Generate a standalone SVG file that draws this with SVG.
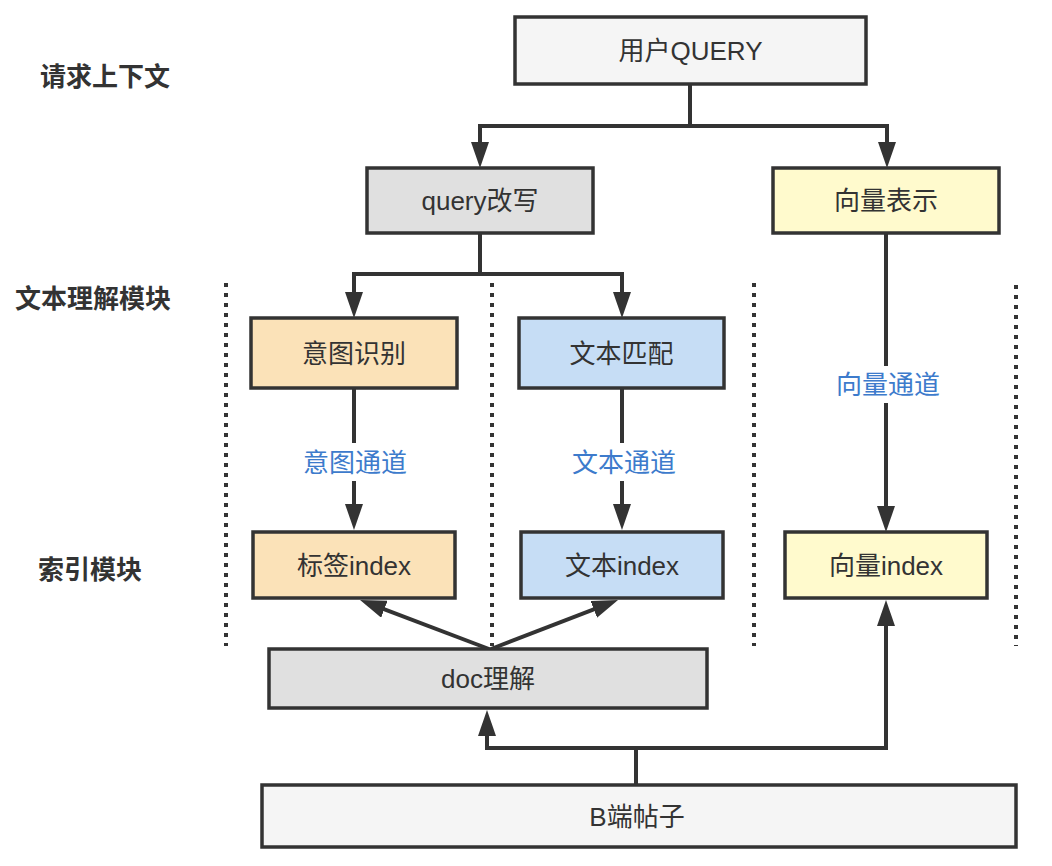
<svg xmlns="http://www.w3.org/2000/svg" width="1052" height="866" viewBox="0 0 1052 866">
<defs>
<style>
.box{stroke:#333;stroke-width:3.5;}
.t{font-family:"Liberation Sans","Noto Sans CJK SC",sans-serif;font-size:26px;fill:#333;text-anchor:middle;dominant-baseline:central;}
.lbl{font-family:"Liberation Sans","Noto Sans CJK SC",sans-serif;font-size:26px;fill:#3d7bcc;text-anchor:middle;dominant-baseline:central;}
.side{font-family:"Noto Sans CJK SC",sans-serif;font-size:26px;font-weight:bold;fill:#333;text-anchor:middle;dominant-baseline:central;}
.c{fill:none;stroke:#333;stroke-width:4;}
.a{marker-end:url(#ah);}
.dot{stroke:#333;stroke-width:4;stroke-dasharray:4 6;fill:none;}
</style>
<marker id="ah" viewBox="0 0 26 18" refX="16" refY="9" markerWidth="26" markerHeight="18" markerUnits="userSpaceOnUse" orient="auto">
<path d="M0,0 L26,9 L0,18 z" fill="#333"/>
</marker>
</defs>
<rect width="1052" height="866" fill="#ffffff"/>

<g id="side-labels">
<text class="side" x="105" y="74">请求上下文</text>
<text class="side" x="93" y="296">文本理解模块</text>
<text class="side" x="90" y="567">索引模块</text>
</g>

<g id="dividers">
<line class="dot" x1="226" y1="283" x2="226" y2="646"/>
<line class="dot" x1="492" y1="283" x2="492" y2="646"/>
<line class="dot" x1="754" y1="283" x2="754" y2="646"/>
<line class="dot" x1="1016" y1="285" x2="1016" y2="646"/>
</g>

<g id="connectors">
<path class="c a" d="M690,84 V126 H480 V158"/>
<path class="c a" d="M690,126 H887 V158"/>
<path class="c a" d="M480,233 V274 H354 V308"/>
<path class="c a" d="M480,274 H622 V308"/>
<path class="c" d="M354,389 V443"/>
<path class="c a" d="M354,481 V520"/>
<path class="c" d="M622,389 V443"/>
<path class="c a" d="M622,481 V520"/>
<path class="c" d="M886,233 V366"/>
<path class="c a" d="M886,403 V522"/>
<path class="c a" d="M489,649 L369.4,603.6"/>
<path class="c a" d="M491,649 L608.7,603.6"/>
<path class="c a" d="M636,785 V748 H487 V720"/>
<path class="c a" d="M636,748 H886 V610"/>
<text class="lbl" x="355" y="463">意图通道</text>
<text class="lbl" x="624" y="463">文本通道</text>
<text class="lbl" x="888" y="385">向量通道</text>
</g>

<g id="n-query">
<rect class="box" x="515" y="17" width="351" height="67" fill="#f5f5f5"/>
<text class="t" x="690.5" y="51">用户QUERY</text>
</g>
<g id="n-rewrite">
<rect class="box" x="367" y="168" width="226" height="65" fill="#e0e0e0"/>
<text class="t" x="480" y="201">query改写</text>
</g>
<g id="n-vecrep">
<rect class="box" x="773" y="168" width="226" height="65" fill="#fffacd"/>
<text class="t" x="886" y="201">向量表示</text>
</g>
<g id="n-intent">
<rect class="box" x="251" y="318" width="206" height="70" fill="#fbe2b8"/>
<text class="t" x="354" y="354">意图识别</text>
</g>
<g id="n-textmatch">
<rect class="box" x="519" y="318" width="205" height="70" fill="#c6ddf5"/>
<text class="t" x="621.5" y="354">文本匹配</text>
</g>
<g id="n-tagidx">
<rect class="box" x="253" y="532" width="202" height="66" fill="#fbe2b8"/>
<text class="t" x="354" y="566">标签index</text>
</g>
<g id="n-textidx">
<rect class="box" x="521" y="532" width="202" height="66" fill="#c6ddf5"/>
<text class="t" x="622" y="566">文本index</text>
</g>
<g id="n-vecidx">
<rect class="box" x="785" y="532" width="202" height="66" fill="#fffacd"/>
<text class="t" x="886" y="566">向量index</text>
</g>
<g id="n-doc">
<rect class="box" x="269" y="649" width="438" height="59" fill="#e0e0e0"/>
<text class="t" x="488" y="679">doc理解</text>
</g>
<g id="n-bpost">
<rect class="box" x="262" y="785" width="754" height="62" fill="#f5f5f5"/>
<text class="t" x="637" y="817">B端帖子</text>
</g>
</svg>
